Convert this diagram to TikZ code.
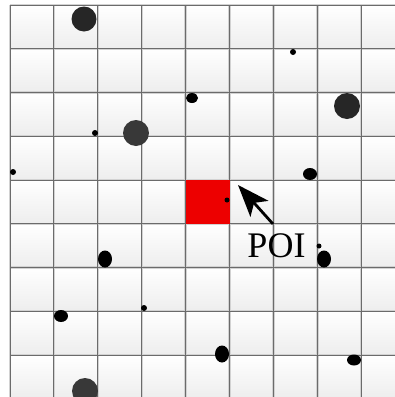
\documentclass[tikz,border=0pt]{standalone}
\usepackage{fontspec}
\setmainfont{Liberation Serif}
\usetikzlibrary{arrows.meta}
\tikzset{
  cellbox/.style={top color=white, bottom color=gray!14},
  gridhalo/.style={draw=gray!35, line width=2.4pt},
  gridline/.style={draw=black!58, line width=1.0pt},
  dotbig/.style={fill=black!85},
  dotgray/.style={fill=black!78},
  dotsmall/.style={fill=black},
  poibox/.style={fill=red!93!black},
  poiarrow/.style={line width=2.8pt, -{Stealth[length=32pt,width=24pt,inset=8pt]}},
  poilabel/.style={font=\fontsize{36}{36}\selectfont, inner sep=0pt, anchor=base}
}
\begin{document}
\begin{tikzpicture}[x=1pt,y=-1pt]
\useasboundingbox (0,0) rectangle (395,397);
\clip (0,0) rectangle (395,397);
\fill[white] (0,0) rectangle (395,397);
% cells
\foreach \i in {0,...,8} {
  \foreach \j in {0,...,8} {
    \shade[cellbox] ({10+43.9*\i},{5+43.75*\j}) rectangle +(43.9,43.75);
  }
}
% grid lines
\foreach \i in {0,...,9} {
  \draw[gridhalo] ({10+43.9*\i},5) -- ({10+43.9*\i},400);
  \draw[gridhalo] (10,{5+43.75*\i}) -- (400,{5+43.75*\i});
}
\foreach \i in {0,...,9} {
  \draw[gridline] ({10+43.9*\i},5) -- ({10+43.9*\i},400);
  \draw[gridline] (10,{5+43.75*\i}) -- (400,{5+43.75*\i});
}
% POI cell
\fill[poibox] (185.6,180) rectangle (229.5,223.75);
% dots
\fill[dotbig] (84,19) circle (12.5);
\fill[dotsmall] (192,98) ellipse (6 and 5);
\fill[dotsmall] (95,133) circle (3);
\fill[dotgray] (136,133) circle (13);
\fill[dotsmall] (13,172) circle (3);
\fill[dotsmall] (293,52) circle (3);
\fill[dotbig] (347,106) circle (13);
\fill[dotsmall] (310,174) ellipse (7 and 6);
\fill[dotsmall] (105,259) ellipse (7 and 8.5);
\fill[dotsmall] (144,308) circle (3);
\fill[dotsmall] (61,316) ellipse (7 and 6);
\fill[dotgray] (85,391) circle (13);
\fill[dotsmall] (319,246) circle (2.5);
\fill[dotsmall] (324,259) ellipse (7 and 8.5);
\fill[dotsmall] (222,354) ellipse (7 and 8.5);
\fill[dotsmall] (354,360) ellipse (7 and 5.5);
\fill[dotsmall] (227,200) circle (2.5);
% label and arrow
\node[poilabel] (poi) at (276.5,257) {POI};
\coordinate (tail) at (273,224);
\coordinate (tip) at (238,185);
\draw[poiarrow] (tail) -- (tip);
\end{tikzpicture}
\end{document}
